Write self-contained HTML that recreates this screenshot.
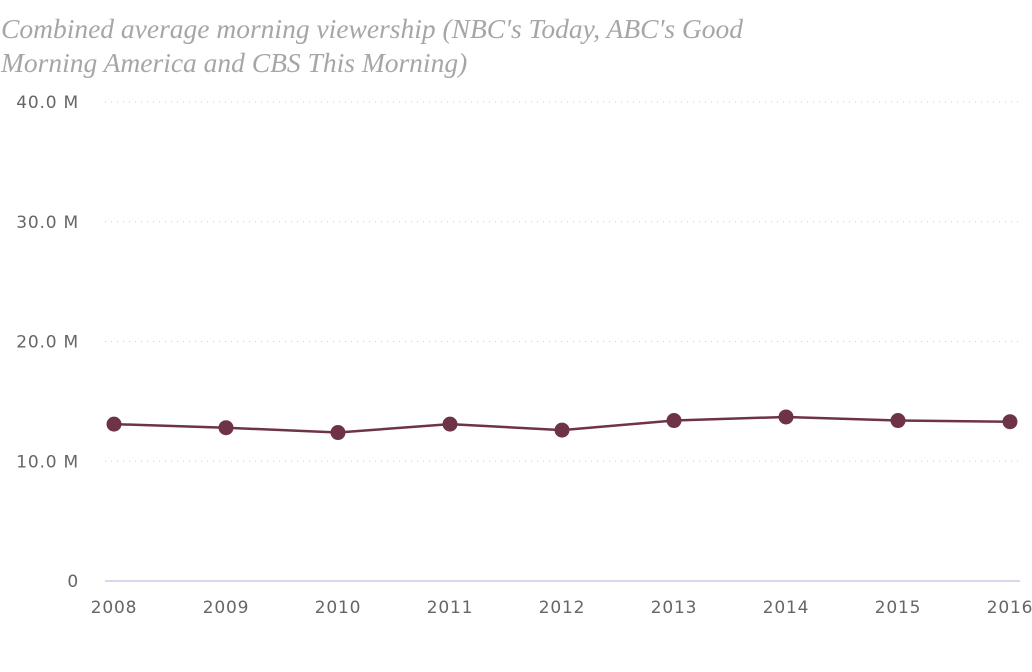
<!DOCTYPE html>
<html><head><meta charset="utf-8"><style>
body{margin:0;background:#fff;width:1032px;height:672px;overflow:hidden}
.title{position:absolute;left:1px;top:12px;font-family:"Liberation Serif",serif;font-style:italic;font-size:27.5px;line-height:34px;color:#a6a6a6}
svg{position:absolute;left:0;top:0}
text{font-family:"DejaVu Sans",sans-serif;font-size:17px;letter-spacing:0.8px;fill:#666}
</style></head><body>
<div class="title">Combined average morning viewership (NBC's Today, ABC's Good<br>Morning America and CBS This Morning)</div>
<svg id="c" width="1032" height="672"></svg>
<script>
const years=["2008","2009","2010","2011","2012","2013","2014","2015","2016"];
const viewers=[13.1,12.8,12.4,13.1,12.6,13.4,13.7,13.4,13.3];
const yTicks=[0,10,20,30,40];
const yTickLabels=["0","10.0 M","20.0 M","30.0 M","40.0 M"];
const ns="http://www.w3.org/2000/svg",svg=document.getElementById('c');
const x=i=>114+i*(1010-114)/(years.length-1);
const y=v=>581-v*(581-102)/40;
function mk(t,a){const e=document.createElementNS(ns,t);for(const k in a)e.setAttribute(k,a[k]);svg.appendChild(e);return e;}
yTicks.forEach((t,i)=>{
  if(t>0){const g=mk('line',{x1:105,x2:1020,y1:y(t),y2:y(t),stroke:'#ccc','stroke-dasharray':'1,5'});
  
  }
  const l=mk('text',{x:79,y:y(t)+6,'text-anchor':'end'});l.textContent=yTickLabels[i];
  
  
});
const ax=mk('line',{x1:105,x2:1020,y1:581,y2:581,stroke:'#c8cce8','stroke-width':1.5});


years.forEach((yr,i)=>{const l=mk('text',{x:x(i),y:613,'text-anchor':'middle'});l.textContent=yr;
  
  });
const line=mk('polyline',{points:viewers.map((v,i)=>x(i)+','+y(v)).join(' '),fill:'none',stroke:'#6e3346','stroke-width':2.5});


viewers.forEach((v,i)=>{const p=mk('circle',{cx:x(i),cy:y(v),r:7.5,fill:'#6e3346'});
  
  });
</script>
</body></html>
